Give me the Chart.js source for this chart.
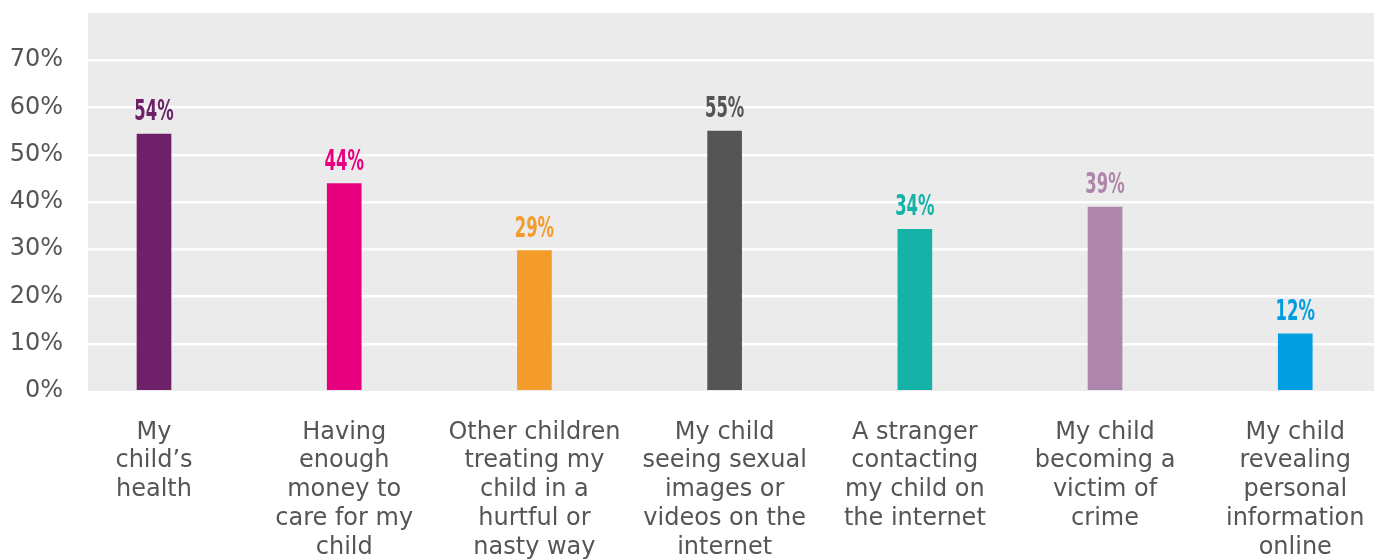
<!DOCTYPE html>
<html>
<head>
<meta charset="utf-8">
<script src="https://cdn.jsdelivr.net/npm/chart.js@4/dist/chart.umd.min.js"></script>
<style>
  html, body { margin: 0; padding: 0; background: #fff; }
  #wrap { width: 1378px; height: 559px; }
</style>
</head>
<body>
<div id="wrap"><canvas id="worriesChart" width="1378" height="559"></canvas></div>
<script>
// Chart data
const categories = [
  ['My', 'child\u2019s', 'health'],
  ['Having', 'enough', 'money to', 'care for my', 'child'],
  ['Other children', 'treating my', 'child in a', 'hurtful or', 'nasty way'],
  ['My child', 'seeing sexual', 'images or', 'videos on the', 'internet'],
  ['A stranger', 'contacting', 'my child on', 'the internet'],
  ['My child', 'becoming a', 'victim of', 'crime'],
  ['My child', 'revealing', 'personal', 'information', 'online']
];
const values = [54.4, 43.9, 29.7, 55, 34.2, 38.9, 12.1];
const valueLabels = ['54%', '44%', '29%', '55%', '34%', '39%', '12%'];
const barColors = ['#6e2168', '#e6007e', '#f39c2c', '#555555', '#15b2a8', '#ae86ab', '#009ee0'];
const yTicks = [0, 10, 20, 30, 40, 50, 60, 70];

// grey plot background
const plotBackground = {
  id: 'plotBackground',
  beforeDraw(chart) {
    const { ctx, chartArea: a } = chart;
    ctx.save();
    ctx.fillStyle = '#ebebeb';
    ctx.fillRect(a.left, a.top, a.right - a.left, a.bottom - a.top);
    ctx.restore();
  }
};

// percentage labels above the bars
const barLabels = {
  id: 'barLabels',
  afterDatasetsDraw(chart) {
    const ctx = chart.ctx;
    const meta = chart.getDatasetMeta(0);
    ctx.save();
    ctx.font = 'bold 29px "DejaVu Sans Condensed", "DejaVu Sans", sans-serif';
    ctx.textAlign = 'center';
    ctx.textBaseline = 'alphabetic';
    meta.data.forEach((bar, i) => {
      ctx.save();
      ctx.translate(bar.x, bar.y - 14);
      ctx.scale(0.63, 1);
      ctx.fillStyle = barColors[i];
      ctx.fillText(valueLabels[i], 0, 0);
      ctx.restore();
    });
    ctx.restore();
  }
};

function noPadding(axis) {
  axis.paddingTop = 0;
  axis.paddingBottom = 0;
  axis.paddingLeft = 0;
  axis.paddingRight = 0;
}

const ctx = document.getElementById('worriesChart').getContext('2d');
new Chart(ctx, {
  type: 'bar',
  data: {
    datasets: [{
      data: values.map((v, i) => ({ x: i, y: v })),
      backgroundColor: barColors,
      barThickness: 34,
      borderWidth: 0
    }]
  },
  options: {
    responsive: false,
    animation: false,
    layout: { autoPadding: false, padding: { top: 13, right: 4, left: 0, bottom: 0 } },
    plugins: {
      legend: { display: false },
      tooltip: { enabled: false }
    },
    scales: {
      x: {
        type: 'linear',
        offset: false,
        min: -0.347,
        max: 6.414,
        afterBuildTicks: axis => { axis.ticks = categories.map((_, i) => ({ value: i })); },
        afterFit: axis => { axis.height = 168; noPadding(axis); },
        grid: { display: false, drawTicks: false, offset: false },
        border: { display: false },
        ticks: {
          autoSkip: false,
          maxRotation: 0,
          padding: 27,
          color: '#555555',
          font: { family: '"DejaVu Sans", sans-serif', size: 24, lineHeight: 1.2 },
          callback: v => categories[v]
        }
      },
      y: {
        min: 0,
        max: 80,
        afterBuildTicks: axis => { axis.ticks = yTicks.map(v => ({ value: v })); },
        afterFit: axis => { axis.width = 88; noPadding(axis); },
        grid: {
          color: c => (c.tick && c.tick.value === 0 ? 'rgba(0,0,0,0)' : '#ffffff'),
          lineWidth: 2.5,
          drawTicks: false
        },
        border: { display: false },
        ticks: {
          padding: 25,
          color: '#555555',
          font: { family: '"DejaVu Sans", sans-serif', size: 24 },
          callback: v => v + '%'
        }
      }
    }
  },
  plugins: [plotBackground, barLabels]
});
</script>
</body>
</html>
